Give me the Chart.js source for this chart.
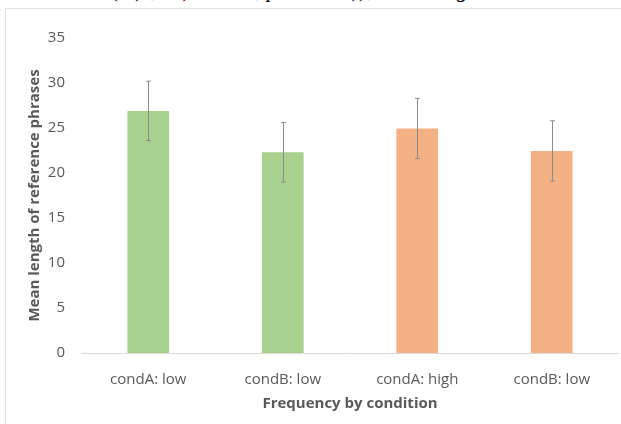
<!DOCTYPE html>
<html>
<head>
<meta charset="utf-8">
<script src="https://cdn.jsdelivr.net/npm/chart.js@4.4.1/dist/chart.umd.min.js"></script>
<style>
  html, body { margin: 0; padding: 0; background: #fff; overflow: hidden; }
  #cut { position: absolute; left: 112px; top: -23px; font: italic 22px "Liberation Serif", serif; color: #000; white-space: nowrap; }
  #frame { position: absolute; left: 5px; top: 8px; width: 640px; height: 440px; border: 1px solid #e3e3e3; }
  #wrap { position: absolute; left: 0; top: 0; width: 621px; height: 424px; }
</style>
</head>
<body>
<div id="cut">(F(1, 30) = 0.92, p = 0.345)), indicating</div>
<div id="frame"></div>
<div id="wrap"><canvas id="barChart"></canvas></div>
<script>
const labels = ['condA: low', 'condB: low', 'condA: high', 'condB: low'];
const means = [26.9, 22.3, 24.95, 22.45];
const errors = [3.3, 3.3, 3.35, 3.35];
const barColors = ['#A9D18E', '#A9D18E', '#F4B183', '#F4B183'];

// error bars drawn through the y scale
const errorBarPlugin = {
    id: 'errorBars',
    afterDatasetsDraw(chart) {
        const ctx = chart.ctx;
        const y = chart.scales.y;
        const meta = chart.getDatasetMeta(0);
        ctx.save();
        ctx.strokeStyle = '#8c8c8c';
        ctx.lineWidth = 1;
        meta.data.forEach(function(bar, i) {
            const x = Math.round(bar.x) + 0.5;
            const top = y.getPixelForValue(means[i] + errors[i]);
            const bottom = y.getPixelForValue(means[i] - errors[i]);
            ctx.beginPath();
            ctx.moveTo(x, top);
            ctx.lineTo(x, bottom);
            ctx.moveTo(x - 2.5, top);
            ctx.lineTo(x + 2.5, top);
            ctx.moveTo(x - 2.5, bottom);
            ctx.lineTo(x + 2.5, bottom);
            ctx.stroke();
        });
        ctx.restore();
    }
};

document.addEventListener("DOMContentLoaded", function() {
    const ctx = document.getElementById('barChart').getContext('2d');
    new Chart(ctx, {
        type: 'bar',
        data: {
            labels: labels,
            datasets: [{
                data: means,
                backgroundColor: barColors,
                barPercentage: 0.31,
                categoryPercentage: 1
            }]
        },
        options: {
            responsive: true,
            maintainAspectRatio: false,
            animation: false,
            layout: { padding: { left: 22, top: 38, right: 2, bottom: 7 } },
            plugins: { legend: { display: false }, tooltip: { enabled: false } },
            scales: {
                x: {
                    grid: { display: false },
                    border: { display: true, color: '#d9d9d9', width: 1 },
                    ticks: { color: '#595959', font: { family: 'Open Sans', size: 15 }, padding: 10 },
                    title: { display: true, text: 'Frequency by condition', color: '#595959',
                             font: { family: 'Open Sans', size: 15, weight: 'bold' }, padding: { top: 1 } },
                    afterFit(scale) { scale.height = 64; }
                },
                y: {
                    min: 0,
                    max: 35,
                    grid: { display: false },
                    border: { display: false },
                    ticks: { stepSize: 5, color: '#595959', font: { family: 'Open Sans', size: 15 }, padding: 8 },
                    title: { display: true, text: 'Mean length of reference phrases', color: '#595959',
                             font: { family: 'Open Sans', size: 15, weight: 'bold' }, padding: { bottom: 6 } },
                    afterFit(scale) { scale.width = 59; }
                }
            }
        },
        plugins: [errorBarPlugin]
    });
});
</script>
</body>
</html>
